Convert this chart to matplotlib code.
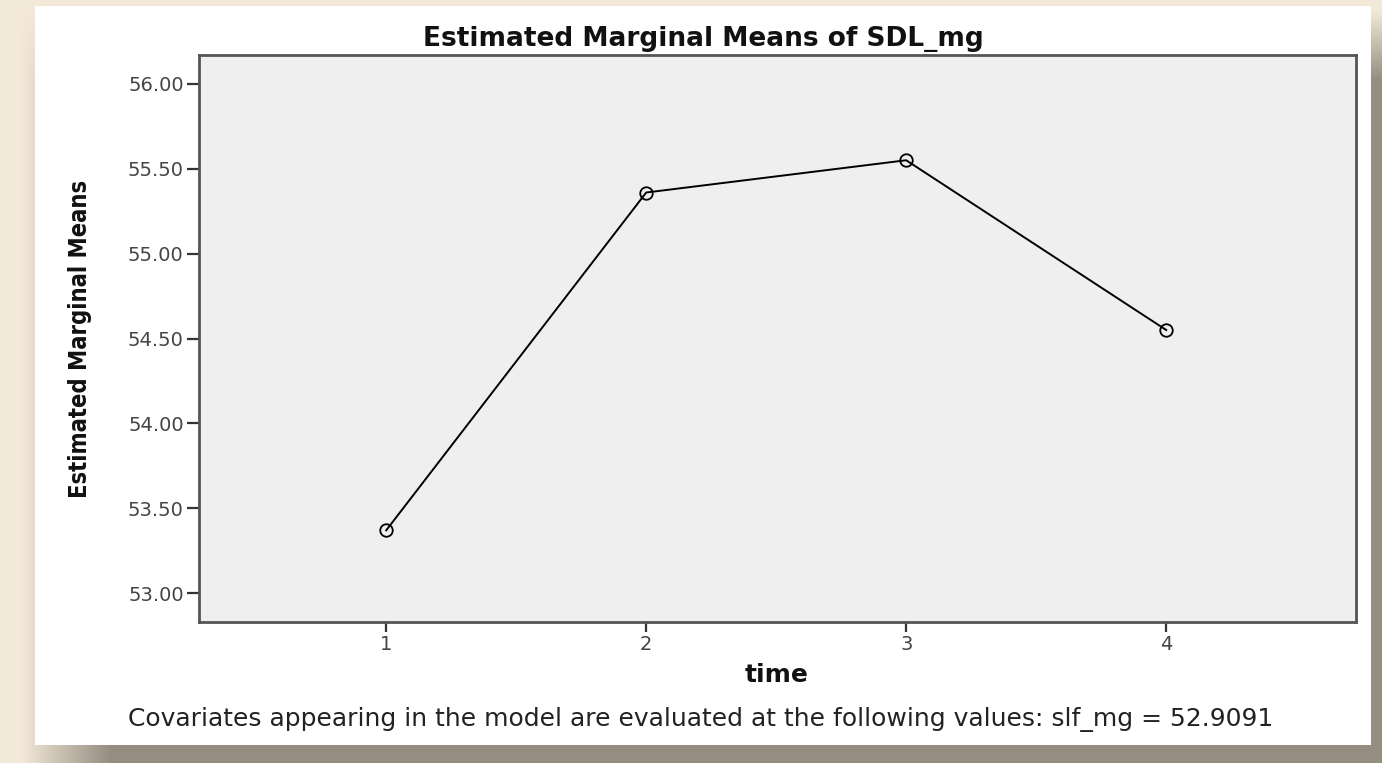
import numpy as np
import matplotlib.pyplot as plt
from matplotlib.patches import Rectangle

time_points = [1, 2, 3, 4]
means = [53.37, 55.36, 55.55, 54.55]
y_ticks = [53.00, 53.50, 54.00, 54.50, 55.00, 55.50, 56.00]
covariate_note = 'Covariates appearing in the model are evaluated at the following values: slf_mg = 52.9091'

W, H = 1382, 763
fig = plt.figure(figsize=(W / 100, H / 100), dpi=100)

# page background with a soft drop shadow behind the white card
bg = fig.add_axes([0, 0, 1, 1])
xx, yy = np.meshgrid(np.arange(W), np.arange(H))
shade = np.clip((xx - 20) / 90, 0, 1) * np.clip((yy - 10) / 70, 0, 1)
beige = np.array([0xf4, 0xe9, 0xd9]) / 255
gray = np.array([0x95, 0x8d, 0x82]) / 255
img = beige * (1 - shade[..., None]) + gray * shade[..., None]
bg.imshow(img, extent=[0, 1, 0, 1], aspect='auto', origin='upper')
bg.add_patch(Rectangle((35 / W, 1 - 745 / H), 1336 / W, 739 / H,
                       facecolor='white', edgecolor='none'))
bg.set_xlim(0, 1)
bg.set_ylim(0, 1)
bg.axis('off')

ax = fig.add_axes([199 / W, 1 - 622 / H, 1157 / W, 567 / H])
ax.set_facecolor('#efefef')
ax.plot(time_points, means, color='black', linewidth=1.4,
        marker='o', markersize=9, markerfacecolor='none',
        markeredgecolor='black', markeredgewidth=1.3)

ax.set_xlim(0.28, 4.73)
ax.set_ylim(52.83, 56.17)
ax.set_xticks(time_points)
ax.set_yticks(y_ticks)
ax.set_yticklabels([f'{v:.2f}' for v in y_ticks])
ax.tick_params(axis='both', direction='out', color='#333333', labelcolor='#444444',
               labelsize=14, width=1.6)
ax.tick_params(axis='y', length=9, pad=2)
ax.tick_params(axis='x', length=7, pad=2)
for s in ax.spines.values():
    s.set_color('#555555')
    s.set_linewidth(2)

ax.set_ylabel('Estimated Marginal Means', family='DejaVu Sans', fontstretch='condensed',
              fontweight='bold', fontsize=17, color='#111111', labelpad=26)

fig.text(703 / W, 1 - 39 / H, 'Estimated Marginal Means of SDL_mg',
         ha='center', va='center', fontsize=19, fontweight='bold', color='#111111')
fig.text(777 / W, 1 - 675 / H, 'time', ha='center', va='center',
         fontsize=18, fontweight='bold', color='#111111')
fig.text(701 / W, 1 - 719 / H, covariate_note, ha='center', va='center',
         fontsize=18, color='#222222')

fig.savefig('out.png', dpi=100)
